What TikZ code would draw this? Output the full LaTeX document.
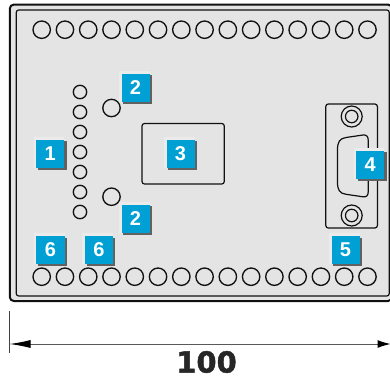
\documentclass[tikz,border=0pt]{standalone}
\usepackage{fontspec}
\setmainfont{Liberation Sans}
\newfontfamily\dimfont[BoldFeatures={FakeBold=1.6}]{DejaVu Sans}
\usetikzlibrary{arrows.meta,calc}
\definecolor{panel}{HTML}{E4E4E4}
\definecolor{badgeblue}{HTML}{009FD4}
\definecolor{ink}{HTML}{111111}
\tikzset{
  bigpin/.style={circle,draw=ink,line width=1.35bp,minimum size=17.4bp,inner sep=0pt},
  smallpin/.style={circle,draw=ink,line width=1.35bp,minimum size=13.4bp,inner sep=0pt},
  screwring/.style={circle,draw=ink,line width=1.2bp,inner sep=0pt},
  outline/.style={draw=ink,line width=1.2bp},
  badgeshape/.style={minimum size=28bp,inner sep=0pt,fill=badgeblue,text=white,
    font=\fontsize{20bp}{20bp}\selectfont\bfseries},
}
\newcommand{\badge}[3]{%
  \fill[white!92!black] ($(#1)+(-16.6,-16.6)$) rectangle ($(#1)+(14,14)$);
  \fill[black!62] ($(#1)+(-12.5,-12.5)$) rectangle ($(#1)+(16.2,16.2)$);
  \node[badgeshape] (#2) at (#1) {#3};
}
\begin{document}
\begin{tikzpicture}[x=1bp,y=-1bp]
\useasboundingbox (0,0) rectangle (390,381);
% panel
\draw[ink,line width=2bp,fill=panel,rounded corners=4bp] (9.8,4.6) -- (392,4.6) -- (392,301) -- (9.8,301) -- cycle;
\draw[outline,rounded corners=2.5bp] (16.2,10) rectangle (389.3,296);
% pins
\foreach \i in {0,...,14}{
  \node[bigpin] (top\i) at ({41.7+23.27*\i},29.7) {};
  \node[bigpin] (bot\i) at ({41.7+23.27*\i},276.7) {};
}
\foreach \i in {0,...,6}{
  \node[smallpin] (led\i) at (80,{92+20*\i}) {};
}
\node[bigpin] (sw1) at (111.5,108) {};
\node[bigpin] (sw2) at (111.5,196.7) {};
% centre rectangle
\draw[outline,rounded corners=2.5bp] (142,123.5) rectangle (224.3,184);
% connector
\draw[outline,rounded corners=2.5bp] (325.8,104) rectangle (377.4,228);
\node[screwring,minimum size=21bp] (s1) at (351.7,116.5) {};
\node[screwring,minimum size=12.5bp] (s1i) at (351.7,116.5) {};
\node[screwring,minimum size=21bp] (s2) at (351.7,215.5) {};
\node[screwring,minimum size=12.5bp] (s2i) at (351.7,215.5) {};
\draw[outline] (337.5,150)
  .. controls (337.5,142) and (339.5,138.5) .. (346,137.5)
  -- (363,135)
  .. controls (366.5,134.6) and (368.2,136.5) .. (368.2,140)
  -- (368.2,192)
  .. controls (368.2,195.5) and (366.5,197.2) .. (363,196.8)
  -- (346,194.3)
  .. controls (339.5,193.3) and (337.5,190) .. (337.5,182)
  -- cycle;
% badges
\badge{135.5,87.5}{b2a}{2}
\badge{50.3,153.5}{b1}{1}
\badge{180.5,153.5}{b3}{3}
\badge{370.3,164.5}{b4}{4}
\badge{345.5,250}{b5}{5}
\badge{50.5,250}{b6a}{6}
\badge{99,250}{b6b}{6}
\badge{135.5,218.5}{b2b}{2}
% dimension
\coordinate (dl) at (9.5,344);
\coordinate (dr) at (390.5,344);
\coordinate (et) at (9.5,311);
\coordinate (eb) at (9.5,352.5);
\draw[black!75,line width=0.7bp] (et) -- (eb);
\draw[black!65,line width=1bp,{Latex[length=21bp,width=8bp,black]}-{Latex[length=13bp,width=8bp,black]}] (dl) -- (dr);
\node[font=\dimfont\bfseries\fontsize{29bp}{29bp}\selectfont,text=black!85,inner sep=0pt] (dim) at (206.5,362) {100};
\end{tikzpicture}
\end{document}
